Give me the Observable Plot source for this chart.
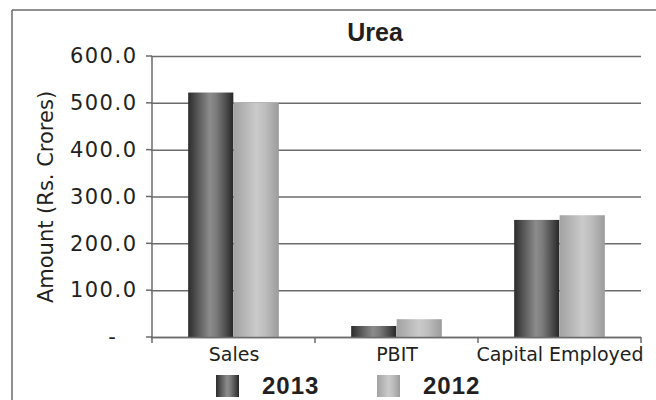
<!DOCTYPE html>
<html><head><meta charset="utf-8">
<script src="https://cdn.jsdelivr.net/npm/d3@7"></script>
<script src="https://cdn.jsdelivr.net/npm/@observablehq/plot@0.6"></script>
<style>html,body{margin:0;padding:0;background:#fff} svg{display:block}</style>
</head><body><div id="chart"></div>
<script>
const title = "Urea";
const categories = ["Sales", "PBIT", "Capital Employed"];
const years = ["2013", "2012"];
const values2013 = [522, 23.5, 250];
const values2012 = [500, 38, 260];
const yTicks = [0, 100, 200, 300, 400, 500, 600];
const yLabel = "Amount (Rs. Crores)";

const data = [];
categories.forEach((c, i) => {
  data.push({category: c, year: years[0], value: values2013[i]});
  data.push({category: c, year: years[1], value: values2012[i]});
});

const W = 656, H = 400, mL = 151, mR = 15, mT = 56, mB = 63;
const band = (W - mL - mR) / categories.length;
const barW = 45.5;
const outer = (band - 2 * barW) / 2;
const textColor = "#231f20";
const lineColor = "#6b6b6b";
const font = "DejaVu Sans";

function gradientDefs() {
  const defs = d3.create("svg:defs");
  const g1 = defs.append("linearGradient").attr("id", "g2013").attr("x1", "0").attr("x2", "1").attr("y1", "0").attr("y2", "0");
  [[0, "#2c2c2c"], [0.2, "#555"], [0.48, "#8c8c8c"], [0.62, "#7c7c7c"], [0.85, "#4a4a4a"], [1, "#262626"]]
    .forEach(([o, c]) => g1.append("stop").attr("offset", o).attr("stop-color", c));
  const g2 = defs.append("linearGradient").attr("id", "g2012").attr("x1", "0").attr("x2", "1").attr("y1", "0").attr("y2", "0");
  [[0, "#a2a2a2"], [0.25, "#b6b6b6"], [0.5, "#cacaca"], [0.7, "#bdbdbd"], [1, "#9b9b9b"]]
    .forEach(([o, c]) => g2.append("stop").attr("offset", o).attr("stop-color", c));
  return defs.node();
}

function axisLines(index, scales) {
  const x = scales.x, y = scales.y;
  const bw = x.bandwidth ? x.bandwidth() : band;
  const g = d3.create("svg:g").attr("stroke", lineColor).attr("stroke-width", 1.5).attr("fill", "none");
  const xs = categories.map(c => x(c)).concat([x(categories[categories.length - 1]) + bw]);
  const y0 = y(0), yTop = y(yTicks[yTicks.length - 1]);
  xs.forEach(xv => g.append("line").attr("x1", xv).attr("x2", xv).attr("y1", y0).attr("y2", y0 + 6));
  g.append("line").attr("x1", xs[0]).attr("x2", xs[0]).attr("y1", y0).attr("y2", yTop);
  yTicks.forEach(t => g.append("line").attr("x1", xs[0] - 6).attr("x2", xs[0]).attr("y1", y(t)).attr("y2", y(t)));
  return g.node();
}

const chart = Plot.plot({
  width: W, height: H,
  marginLeft: mL, marginRight: mR, marginTop: mT, marginBottom: mB,
  style: {fontFamily: font, color: textColor, background: "#fff"},
  x: {domain: categories, padding: 0, label: null},
  y: {domain: [0, 600], label: null},
  marks: [
    gradientDefs,
    Plot.gridY(yTicks, {stroke: lineColor, strokeOpacity: 1, strokeWidth: 1.5}),
    Plot.barY(data.filter(d => d.year === years[0]), {x: "category", y: "value", fill: "url(#g2013)", insetLeft: outer, insetRight: outer + barW}),
    Plot.barY(data.filter(d => d.year === years[1]), {x: "category", y: "value", fill: "url(#g2012)", insetLeft: outer + barW, insetRight: outer}),
    Plot.ruleY([0], {stroke: lineColor, strokeWidth: 1.5}),
    axisLines,
    Plot.axisY(yTicks, {tickSize: 0, tickPadding: 14, label: null, fontSize: 21, fill: textColor,
      tickFormat: d => d === 0 ? "-\u2002\u00a0" : d.toFixed(1)}),
    Plot.axisX({tickSize: 0, tickPadding: 10, label: null, fontSize: 19, fill: textColor}),
    Plot.text([yLabel], {text: d => d, frameAnchor: "left", textAnchor: "middle", rotate: -90, dx: -105, fontSize: 21, fill: textColor})
  ]
});

const svg = d3.select(chart);
svg.selectAll('g[aria-label="y-axis tick label"] text').attr("letter-spacing", "1.5px");

// border (left and top)
svg.append("line").attr("x1", 12).attr("x2", 12).attr("y1", 10).attr("y2", H).attr("stroke", lineColor).attr("stroke-width", 1.5);
svg.append("line").attr("x1", 12).attr("x2", W).attr("y1", 10).attr("y2", 10).attr("stroke", lineColor).attr("stroke-width", 1.5);

// title
svg.append("text").attr("x", 375).attr("y", 40.5).attr("text-anchor", "middle")
  .attr("font-family", "Liberation Sans, Arial, sans-serif").attr("font-weight", "bold").attr("font-size", 25)
  .attr("fill", textColor).text(title);

// legend
const legendItems = [
  {label: years[0], fill: "url(#g2013)", x: 216},
  {label: years[1], fill: "url(#g2012)", x: 377}
];
const lg = svg.append("g").attr("aria-label", "legend");
legendItems.forEach(it => {
  lg.append("rect").attr("x", it.x).attr("y", 375).attr("width", 23).attr("height", 22).attr("fill", it.fill);
  lg.append("text").attr("x", it.x + 46).attr("y", 394).attr("text-anchor", "start")
    .attr("font-family", "Liberation Sans, Arial, sans-serif")
    .attr("font-weight", "bold").attr("font-size", 24).attr("letter-spacing", "1px").attr("fill", textColor).text(it.label);
});

document.getElementById("chart").appendChild(chart);
</script>
</body></html>
